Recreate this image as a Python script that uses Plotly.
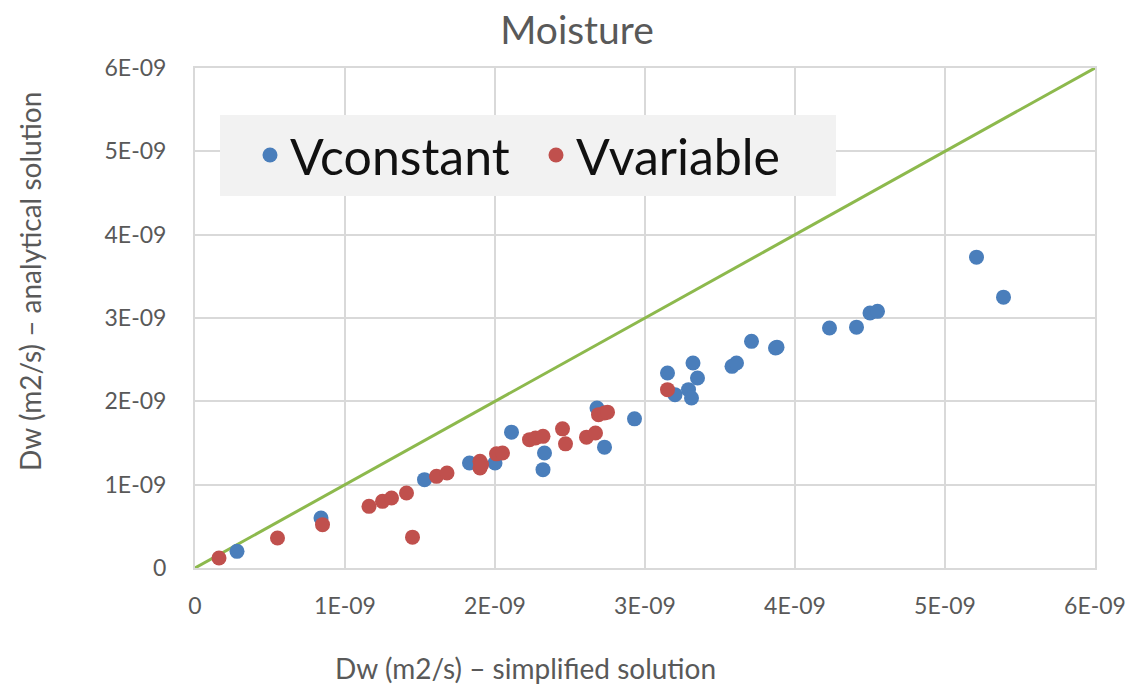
import plotly.graph_objects as go

# Data (units of 1E-09 m2/s)
vconst_x = [0.28, 0.84, 1.53, 1.83, 2.00, 2.11, 2.33, 2.32, 2.68, 2.73, 2.93, 3.15, 3.20,
            3.32, 3.35, 3.29, 3.31, 3.58, 3.61, 3.71, 3.87, 3.88, 4.23, 4.41, 4.50, 4.55, 5.21, 5.39]
vconst_y = [0.20, 0.60, 1.06, 1.26, 1.26, 1.63, 1.38, 1.18, 1.92, 1.45, 1.79, 2.34, 2.08,
            2.46, 2.28, 2.14, 2.04, 2.42, 2.46, 2.72, 2.64, 2.65, 2.88, 2.89, 3.06, 3.08, 3.73, 3.25]
vvar_x = [0.16, 0.55, 0.85, 1.16, 1.25, 1.31, 1.41, 1.45, 1.61, 1.68, 1.90, 1.90, 1.91,
          2.01, 2.05, 2.23, 2.27, 2.32, 2.45, 2.47, 2.61, 2.67, 2.69, 2.73, 2.75, 3.15]
vvar_y = [0.12, 0.36, 0.52, 0.74, 0.80, 0.84, 0.90, 0.37, 1.10, 1.14, 1.28, 1.20, 1.24,
          1.37, 1.38, 1.54, 1.56, 1.58, 1.67, 1.49, 1.57, 1.62, 1.84, 1.86, 1.87, 2.14]
line_x = [0, 6]
line_y = [0, 6]
tick_vals = [0, 1, 2, 3, 4, 5, 6]
tick_text = ["0", "1E-09", "2E-09", "3E-09", "4E-09", "5E-09", "6E-09"]

scale = 1e-9
FONT = "Lato"
GRAY = "#595959"

L, R, T, B = 195, 34, 68, 122
PW = 1129 - L - R
PH = 690 - T - B


def px(x):
    return (x - L) / PW


def py(y):
    return (690 - B - y) / PH


fig = go.Figure()
fig.add_trace(go.Scatter(x=[v * scale for v in line_x], y=[v * scale for v in line_y],
                         mode="lines", line=dict(color="#8DB94D", width=3),
                         showlegend=False, hoverinfo="skip"))
fig.add_trace(go.Scatter(x=[v * scale for v in vconst_x], y=[v * scale for v in vconst_y],
                         mode="markers", name="Vconstant",
                         marker=dict(color="#4A7EBB", size=15)))
fig.add_trace(go.Scatter(x=[v * scale for v in vvar_x], y=[v * scale for v in vvar_y],
                         mode="markers", name="Vvariable",
                         marker=dict(color="#C0504D", size=15)))

axis_common = dict(
    range=[0, 6e-9],
    tickvals=[v * scale for v in tick_vals],
    ticktext=tick_text,
    showgrid=True, gridcolor="#D9D9D9", gridwidth=2,
    showline=True, linecolor="#D9D9D9", linewidth=2, mirror=True,
    zeroline=False, automargin=False, ticklabeloverflow="allow",
    ticks="outside", tickcolor="rgba(0,0,0,0)",
    tickfont=dict(family=FONT, size=23, color=GRAY),
)

fig.update_layout(
    width=1129, height=690, autosize=False,
    margin=dict(l=L, r=R, t=T, b=B),
    paper_bgcolor="white", plot_bgcolor="white",
    title=dict(text="Moisture", x=577 / 1129, xanchor="center", y=1 - 30 / 690, yanchor="middle",
               font=dict(family=FONT, size=39, color=GRAY)),
    xaxis=dict(**axis_common, ticklen=16),
    yaxis=dict(**axis_common, ticklen=22),
    legend=dict(orientation="h", x=px(250), xanchor="left",
                y=py(155), yanchor="middle",
                bgcolor="rgba(0,0,0,0)", font=dict(family=FONT, size=50, color="#111111"),
                entrywidth=241, entrywidthmode="pixels"),
    shapes=[dict(type="rect", xref="paper", yref="paper",
                 x0=px(220), x1=px(836), y0=py(196), y1=py(115),
                 fillcolor="#F2F2F2", line=dict(width=0), layer="above")],
    annotations=[
        dict(text="Dw (m2/s) – simplified solution", xref="paper", yref="paper",
             x=px(525), y=py(668), xanchor="center", yanchor="middle",
             showarrow=False, font=dict(family=FONT, size=28, color=GRAY)),
        dict(text="Dw (m2/s) – analytical solution", xref="paper", yref="paper",
             x=px(30), y=py(282), xanchor="center", yanchor="middle",
             textangle=-90, showarrow=False, font=dict(family=FONT, size=28, color=GRAY)),
    ],
)

fig.write_html("out.html")
